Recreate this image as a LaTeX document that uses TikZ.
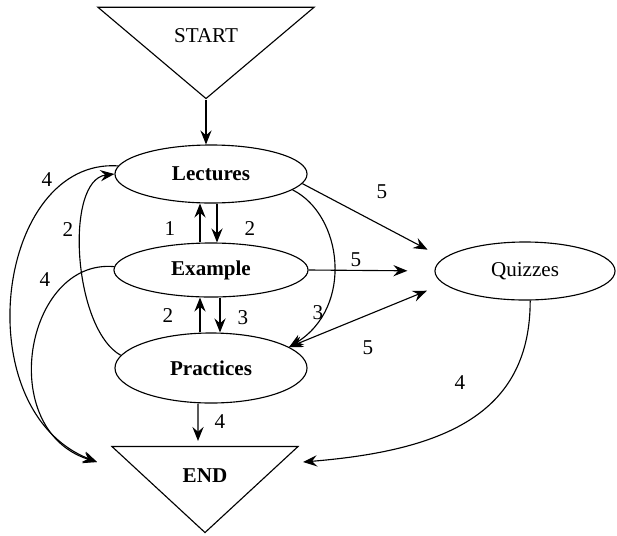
\documentclass[tikz,border=0pt]{standalone}
\usepackage{fontspec}
\setmainfont{Liberation Serif}
\usetikzlibrary{shapes,arrows,arrows.meta}
\usetikzlibrary{positioning}
\usetikzlibrary{calc}

\begin{document}
\begin{tikzpicture}[>={Stealth[length=10pt,width=8pt,inset=3.5pt]},
x=0.025cm, y=-0.025cm,
thick,
font=\fontsize{15}{18}\selectfont,
myoval/.style={
  ellipse,
  draw,
  inner sep=0pt,
  font=\fontsize{15}{18}\selectfont\bfseries},
mytri/.style={
  isosceles triangle,
  isosceles triangle stretches,
  shape border rotate=270,
  draw,
  inner sep=0pt},
mynum/.style={inner sep=0pt}
]
\useasboundingbox (0,0) rectangle (617,535);

\node[mytri, minimum width=5.4cm, minimum height=2.25cm, anchor=apex] (start) at (206,100) {START};
\node[myoval, minimum width=4.8cm, minimum height=1.45cm] (lect) at (211,174) {Lectures};
\node[myoval, minimum width=4.85cm, minimum height=1.35cm] (exmp) at (211,270) {Example};
\node[myoval, minimum width=4.8cm, minimum height=1.75cm] (prac) at (211,368) {Practices};
\node[myoval, minimum width=4.5cm, minimum height=1.45cm, font=\fontsize{15}{18}\selectfont] (quiz) at (525,271) {Quizzes};
\node[mytri, minimum width=4.65cm, minimum height=2.15cm, anchor=apex, font=\fontsize{15}{18}\selectfont\bfseries] (stop) at (205,534) {END};
\coordinate (stopL) at (97,462);
\coordinate (stopR) at (303,462);

\draw[->] (start.apex) -- (start.apex |- lect.north);
\draw[->] ([xshift=-0.275cm]exmp.north) -- ([xshift=-0.275cm]lect.south);
\draw[->] ([xshift=0.15cm]lect.south) -- ([xshift=0.15cm]exmp.north);
\draw[->] ([xshift=-0.275cm]prac.north) -- ([xshift=-0.275cm]exmp.south);
\draw[->] ([xshift=0.225cm]exmp.south) -- ([xshift=0.225cm]prac.north);
\draw[->] ([xshift=-0.325cm]prac.south) -- ([xshift=-0.175cm,yshift=0.125cm]stop.north);

\draw[->, shorten >=0.45cm] (lect.-6) -- (quiz.171);
\draw[->, shorten >=0.675cm] (exmp.east) -- (quiz.west);
\draw[<->, shorten >=0.45cm] (prac.15) -- (quiz.189);

\draw[->] (lect.-11) .. controls +(50,25) and +(65,-40) .. (prac.15);
\draw[->] (prac.172) .. controls +(-48,-27) and +(-50,6) .. (lect.west);
\draw[->] (lect.175) .. controls +(-122,-8) and +(-132,-52) .. (stopL);
\draw[->] (exmp.178) .. controls +(-89,-8) and +(-102,-32) .. (stopL);
\draw[->] (quiz.-80) .. controls +(0,110) and +(147,-12) .. (stopR);

\node[mynum] (n1) at (170,229) {1};
\node[mynum] (n2) at (250,229) {2};
\node[mynum] (n3) at (168,316) {2};
\node[mynum] (n4) at (243,318) {3};
\node[mynum] (n5) at (220,422) {4};
\node[mynum] (n6) at (382,192) {5};
\node[mynum] (n7) at (356,260) {5};
\node[mynum] (n8) at (368,348) {5};
\node[mynum] (n9) at (318,313) {3};
\node[mynum] (n10) at (68,230) {2};
\node[mynum] (n11) at (47,180) {4};
\node[mynum] (n12) at (45,280) {4};
\node[mynum] (n13) at (460,383) {4};

\end{tikzpicture}
\end{document}
